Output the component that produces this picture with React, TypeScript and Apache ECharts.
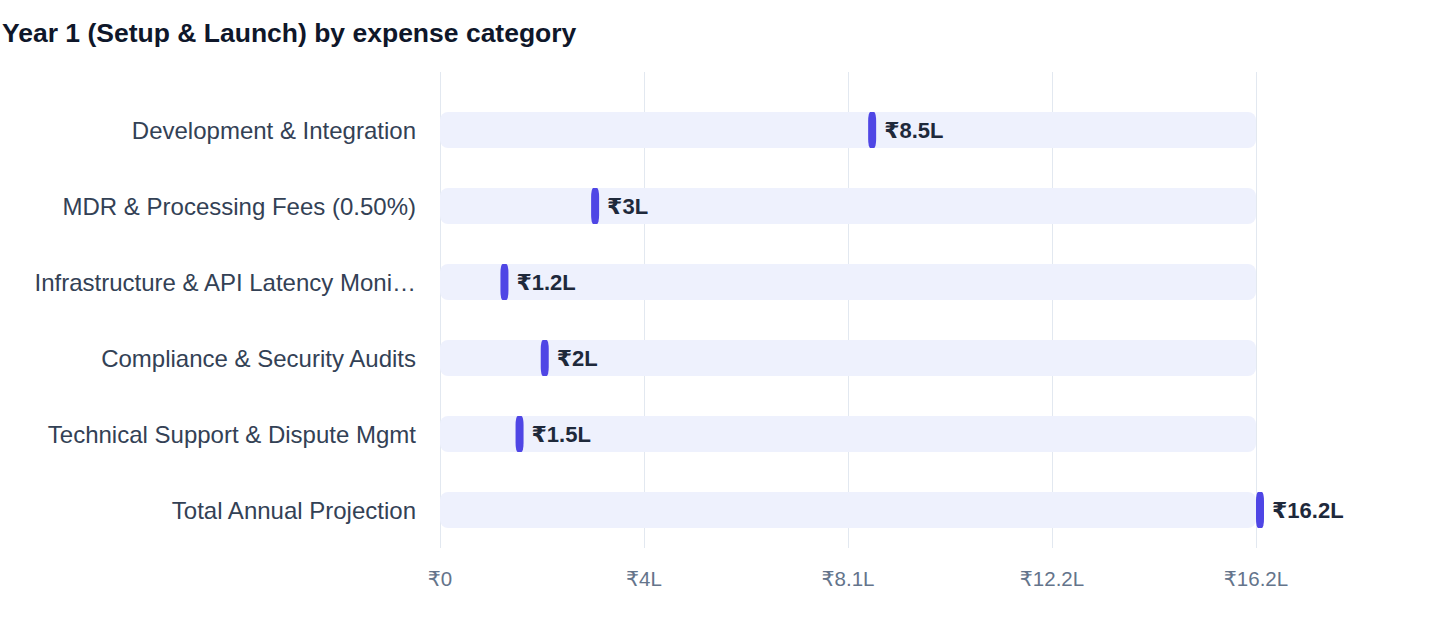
import React, { useEffect, useRef } from "react";
import * as echarts from "echarts";

const titleText = "Year 1 (Setup & Launch) by expense category";
const categories = [
  "Development & Integration",
  "MDR & Processing Fees (0.50%)",
  "Infrastructure & API Latency Monitoring",
  "Compliance & Security Audits",
  "Technical Support & Dispute Mgmt",
  "Total Annual Projection",
];
const values = [8.5, 3, 1.2, 2, 1.5, 16.2];
const valueLabels = ["₹8.5L", "₹3L", "₹1.2L", "₹2L", "₹1.5L", "₹16.2L"];
const xTickLabels = ["₹0", "₹4L", "₹8.1L", "₹12.2L", "₹16.2L"];
const xMax = 16.2;
const xInterval = 4.05;

const FONT = "'Liberation Sans', Arial, Helvetica, 'DejaVu Sans', sans-serif";

export default function App() {
  const ref = useRef<HTMLDivElement>(null);
  useEffect(() => {
    if (!ref.current) return;
    const chart = echarts.init(ref.current, null, { renderer: "svg" });
    const option: any = {
      animation: false,
      backgroundColor: "#ffffff",
      textStyle: { fontFamily: FONT },
      title: {
        text: titleText,
        left: 2,
        top: 19,
        padding: 0,
        textStyle: { fontSize: 26.5, fontWeight: "bold", color: "#0f172a", fontFamily: FONT },
      },
      grid: [
        { left: 440, right: 184, top: 72, bottom: 88 },
        { left: 440, right: 184, top: 92, bottom: 88 },
      ],
      xAxis: [
        {
          gridIndex: 0,
          type: "value",
          min: 0,
          max: xMax,
          interval: xInterval,
          axisLine: { show: false },
          axisTick: { show: false },
          splitLine: { show: true, lineStyle: { color: "#e2e8f0", width: 1 } },
          axisLabel: {
            margin: 20,
            fontSize: 20.5,
            color: "#64748b",
            fontFamily: FONT,
            formatter: (v: number) => xTickLabels[Math.round(v / xInterval)] ?? "",
          },
        },
        {
          gridIndex: 1,
          type: "value",
          min: 0,
          max: xMax,
          show: false,
          splitLine: { show: false },
        },
      ],
      yAxis: [
        {
          gridIndex: 0,
          type: "category",
          data: categories,
          show: false,
        },
        {
          gridIndex: 1,
          type: "category",
          data: categories,
          inverse: true,
          axisLine: { show: false },
          axisTick: { show: false },
          splitLine: { show: false },
          axisLabel: {
            margin: 24,
            fontSize: 24,
            color: "#334155",
            fontFamily: FONT,
            width: 386,
            overflow: "truncate",
            ellipsis: "…",
          },
        },
      ],
      series: [
        {
          type: "bar",
          xAxisIndex: 1,
          yAxisIndex: 1,
          data: values,
          barWidth: 36,
          itemStyle: { color: "rgba(0,0,0,0)" },
          showBackground: true,
          backgroundStyle: { color: "#eef1fd", borderRadius: 8 },
          silent: true,
        },
        {
          type: "scatter",
          xAxisIndex: 1,
          yAxisIndex: 1,
          clip: false,
          data: values.map((v, i) => [v, i]),
          symbol: "roundRect",
          symbolSize: [8, 36],
          symbolOffset: [4, 0],
          itemStyle: { color: "#4f46e5", opacity: 1 },
          label: {
            show: true,
            position: "right",
            distance: 8,
            fontSize: 22,
            fontWeight: "bold",
            color: "#1e293b",
            fontFamily: FONT,
            formatter: (p: any) => valueLabels[p.dataIndex],
          },
        },
      ],
    };
    chart.setOption(option);
    return () => chart.dispose();
  }, []);
  return (
    <div
      ref={ref}
      style={{ position: "absolute", left: 0, top: 0, width: 1440, height: 636 }}
    />
  );
}
